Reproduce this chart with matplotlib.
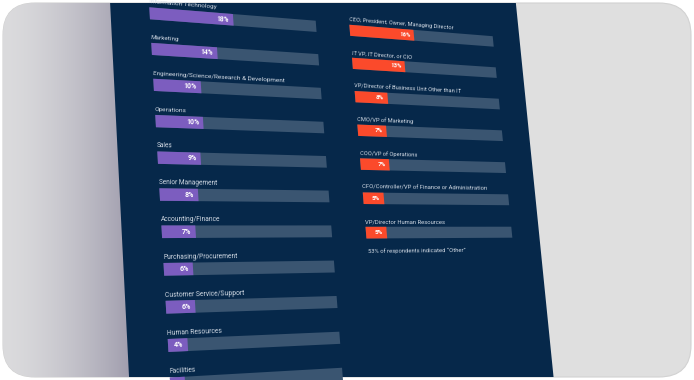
import math
import numpy as np
import matplotlib
matplotlib.use("Agg")
import matplotlib.pyplot as plt
from matplotlib.transforms import Transform, Affine2D
from matplotlib.patches import Polygon, FancyBboxPatch

# left column: job function
dept_labels = [
    "Information Technology",
    "Marketing",
    "Engineering/Science/Research & Development",
    "Operations",
    "Sales",
    "Senior Management",
    "Accounting/Finance",
    "Purchasing/Procurement",
    "Customer Service/Support",
    "Human Resources",
    "Facilities",
]
dept_values = [18, 14, 10, 10, 9, 8, 7, 6, 6, 4, 3]

# right column: job title
role_labels = [
    "CEO, President, Owner, Managing Director",
    "IT VP, IT Director, or CIO",
    "VP/Director of Business Unit Other than IT",
    "CMO/VP of Marketing",
    "COO/VP of Operations",
    "CFO/Controller/VP of Finance or Administration",
    "VP/Director Human Resources",
]
role_values = [16, 13, 8, 7, 7, 5, 5]
other_note = "53% of respondents indicated \u201cOther\u201d"

NAVY = "#06284a"
TRACK = "#3a5571"
PURPLE = "#7c5dbf"
RED = "#fb4a2b"
LABEL = "#d3dbe5"

# flat layout units (roughly pixels at the top left of the sheet)
ROW_STEP = 37.0
BAR_H = 12.5
BAR_LEN = 170.0
SCALE_MAX = 37.0      # percent that fills a whole track
LEFT_U = 0.0
RIGHT_U = 207.0
RIGHT_V = 1.5

# the sheet is photographed at an angle: map flat corners of the left column
# onto where they sit in the picture
CALIB_SRC = [(0, 0), (170, 0), (170, 333), (0, 333)]
CALIB_DST = [(149.3, 7.3), (315.7, 20.7), (339.3, 331.7), (167.7, 339.0)]


def solve_homography(src, dst):
    A, b = [], []
    for (u, v), (x, y) in zip(src, dst):
        A.append([u, v, 1, 0, 0, 0, -u * x, -v * x])
        b.append(x)
        A.append([0, 0, 0, u, v, 1, -u * y, -v * y])
        b.append(y)
    h = np.linalg.solve(np.array(A, float), np.array(b, float))
    return np.append(h, 1.0).reshape(3, 3)


class Perspective(Transform):
    input_dims = output_dims = 2
    is_separable = False
    has_inverse = True

    def __init__(self, H):
        super().__init__()
        self.H = np.asarray(H, float)

    def transform_non_affine(self, values):
        values = np.asarray(values, float).reshape(-1, 2)
        pts = np.column_stack([values, np.ones(len(values))]) @ self.H.T
        return pts[:, :2] / pts[:, 2:3]

    def inverted(self):
        return Perspective(np.linalg.inv(self.H))


fig = plt.figure(figsize=(6.94, 3.80), dpi=100, facecolor="white")
ax = fig.add_axes([0, 0, 1, 1])
ax.set_xlim(0, 694)
ax.set_ylim(380, 0)
ax.axis("off")

persp = Perspective(solve_homography(CALIB_SRC, CALIB_DST))
sheet = persp + ax.transData

# rounded backdrop card
card = FancyBboxPatch((3, 3), 688, 374, boxstyle="round,pad=0,rounding_size=32",
                      facecolor="#dfdfdf", edgecolor="#d2d2d2", lw=0.8, zorder=0)
ax.add_patch(card)

# shadow falling to the left of the sheet
ramp = np.linspace(0, 1, 200) ** 1.5
c0 = np.array([0xdb, 0xdb, 0xdd]) / 255
c1 = np.array([0x9d, 0x9a, 0xab]) / 255
grad = (c0[None, :] * (1 - ramp[:, None]) + c1[None, :] * ramp[:, None])[None, :, :]
shade = ax.imshow(grad, extent=(3, 135, 380, 0), aspect="auto", zorder=1,
                  interpolation="bilinear")
shade.set_clip_path(card)

panel = Polygon([(-37, -80), (411, -80), (411, 460), (-37, 460)], closed=True,
                facecolor=NAVY, edgecolor="none", transform=sheet, zorder=2)
ax.add_patch(panel)
panel.set_clip_path(card)

FONT = ["Roboto", "DejaVu Sans"]


def local_geometry(tr, x, y):
    p0 = tr.transform((x, y))
    p1 = tr.transform((x + 1.0, y))
    p2 = tr.transform((x, y + 1.0))
    ang = math.degrees(math.atan2(p1[1] - p0[1], p1[0] - p0[0]))
    scale = math.sqrt(abs(np.cross(p1 - p0, p2 - p0)))
    return ang, scale, p0


def draw_column(labels, values, color, u0, v0, note=None):
    per_unit = BAR_LEN / SCALE_MAX
    col = Affine2D().scale(per_unit, 1.0).translate(u0, v0) + sheet
    rows = np.arange(len(values)) * ROW_STEP
    ax.barh(rows, [SCALE_MAX] * len(values), height=BAR_H, align="edge",
            color=TRACK, transform=col, zorder=3)
    ax.barh(rows, values, height=BAR_H, align="edge",
            color=color, transform=col, zorder=4)
    for r, lab, val in zip(rows, labels, values):
        ang, sc, _ = local_geometry(col, 0, r - 4)
        sc /= math.sqrt(per_unit)
        ax.text(0, r - 4, lab, transform=col, rotation=ang, rotation_mode="anchor",
                ha="left", va="baseline", color=LABEL, fontsize=4.6 * sc,
                family=FONT, zorder=5)
        px = val - 4.0 / per_unit
        ang, sc, p0 = local_geometry(col, px, r + BAR_H / 2)
        sc /= math.sqrt(per_unit)
        if p0[1] < 4:      # below the visible frame
            continue
        ax.text(px, r + BAR_H / 2, f"{val}%", transform=col, rotation=ang,
                rotation_mode="anchor", ha="right", va="center", color="white",
                fontsize=5.0 * sc, fontweight="bold", family=FONT, zorder=5)
    if note:
        nv = rows[-1] + BAR_H + 15.5
        ang, sc, _ = local_geometry(col, 0, nv)
        sc /= math.sqrt(per_unit)
        ax.text(0, nv, note, transform=col, rotation=ang, rotation_mode="anchor",
                ha="left", va="baseline", color=LABEL, fontsize=4.6 * sc,
                family=FONT, zorder=5)


draw_column(dept_labels, dept_values, PURPLE, LEFT_U, 0.0)
draw_column(role_labels, role_values, RED, RIGHT_U, RIGHT_V, note=other_note)

ax.set_xlim(0, 694)
ax.set_ylim(380, 0)
fig.savefig("out.png", dpi=100, facecolor="white")
